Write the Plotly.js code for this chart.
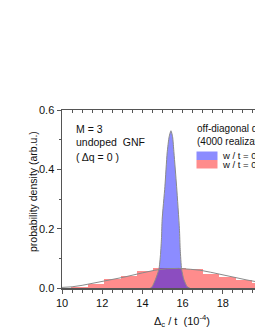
<!DOCTYPE html>
<html>
<head>
<meta charset="utf-8">
<script src="https://cdn.plot.ly/plotly-3.0.1.min.js"></script>
<style>html,body{margin:0;padding:0;background:#fff;}#chart{width:255px;height:330px;}</style>
</head>
<body>
<div id="chart"></div>
<script>
// Red histogram (w/t larger): bin centres and heights
const redBinCenters = [10.86, 11.68, 12.50, 13.32, 14.14, 14.96, 15.78, 16.60, 17.42, 18.24, 19.06, 19.88];
const redBinHeights = [0.005, 0.014, 0.032, 0.040, 0.057, 0.066, 0.066, 0.063, 0.046, 0.037, 0.026, 0.018];
const redBinWidth = 0.82;

// Red fit curve
const redFitX = [10.0, 10.5, 11.0, 11.5, 12.13, 13.04, 14.0, 14.62, 15.2, 15.8, 16.4, 16.86, 17.4, 17.86, 18.3, 18.7, 19.2, 19.6, 20.0];
const redFitY = [0.002, 0.004, 0.009, 0.015, 0.023, 0.036, 0.051, 0.060, 0.065, 0.066, 0.063, 0.060, 0.053, 0.046, 0.039, 0.033, 0.027, 0.022, 0.018];

// Blue distribution (w/t small) and its fit
const blueX = [14.40, 14.48, 14.65, 14.82, 14.90, 14.95, 14.98, 15.12, 15.23, 15.33, 15.42, 15.50, 15.57, 15.70, 15.84, 15.88, 15.95, 16.06, 16.23, 16.35];
const blueY = [0.000, 0.004, 0.029, 0.063, 0.113, 0.170, 0.230, 0.343, 0.455, 0.510, 0.530, 0.510, 0.455, 0.343, 0.200, 0.130, 0.063, 0.029, 0.004, 0.000];

// Tick settings
const xTickVals = [10, 12, 14, 16, 18];
const yTickVals = [0.0, 0.2, 0.4, 0.6];

const legendLabels = ['w / t = 0.01', 'w / t = 0.1'];
const infoLines = ['M = 3', 'undoped  GNF', '( \u0394q = 0 )'];
const headerLines = ['off-diagonal disorder', '(4000 realizations)'];

const FONT = 'Liberation Sans, Arial, sans-serif';
const xr = [10, 19.6];
const axisColor = '#555';

const traces = [
  {
    type: 'bar', x: redBinCenters, y: redBinHeights, width: redBinWidth,
    marker: {color: 'rgba(255,0,0,0.45)', line: {width: 0}},
    hoverinfo: 'skip', showlegend: false
  },
  {
    type: 'scatter', mode: 'lines', x: redFitX, y: redFitY,
    line: {color: '#8a8a8a', width: 1}, hoverinfo: 'skip', showlegend: false,
    xaxis: 'x2'
  },
  {
    type: 'scatter', mode: 'lines', x: blueX, y: blueY, fill: 'tozeroy',
    fillcolor: 'rgba(0,0,255,0.45)', line: {color: '#8a8a8a', width: 1, shape: 'spline', smoothing: 0.6},
    hoverinfo: 'skip', showlegend: false
  }
];

const pxW = 255 - 62; // plot width in px
const pxH = 178;      // plot height
function px2paperX(p){ return (p - 62) / pxW; }
function px2paperY(p){ return (288 - p) / pxH; }

const annotations = [];
infoLines.forEach((t, i) => {
  annotations.push({xref:'paper', yref:'paper', x: px2paperX(74), y: px2paperY([129, 142, 157][i]),
    xanchor:'left', yanchor:'middle', text: t, showarrow:false, font:{family:FONT, size:10.5, color:'#111'}});
});
headerLines.forEach((t, i) => {
  annotations.push({xref:'paper', yref:'paper', x: px2paperX(195), y: px2paperY([128.5, 141][i]),
    xanchor:'left', yanchor:'middle', text: t, showarrow:false, font:{family:FONT, size:10, color:'#111'}});
});
legendLabels.forEach((t, i) => {
  annotations.push({xref:'paper', yref:'paper', x: px2paperX(220), y: px2paperY([155.5, 164.5][i]),
    xanchor:'left', yanchor:'middle', text: t, showarrow:false, font:{family:FONT, size:9.5, color:'#111'}});
});
// axis titles
annotations.push({xref:'paper', yref:'paper', x: px2paperX(182), y: px2paperY(321), xanchor:'center', yanchor:'middle',
  text: '\u0394<sub>c</sub> / t  (10<sup>-4</sup>)', showarrow:false, font:{family:FONT, size:11, color:'#111'}});
annotations.push({xref:'paper', yref:'paper', x: px2paperX(33), y: px2paperY(192), xanchor:'center', yanchor:'middle',
  textangle:-90, text: 'probability density (arb.u.)', showarrow:false, font:{family:FONT, size:10.5, color:'#111'}});

const shapes = [
  {type:'rect', xref:'paper', yref:'paper', x0: px2paperX(196.5), x1: px2paperX(217.5), y0: px2paperY(151.5), y1: px2paperY(160),
   fillcolor:'rgba(0,0,255,0.45)', line:{width:0}},
  {type:'rect', xref:'paper', yref:'paper', x0: px2paperX(196.5), x1: px2paperX(217.5), y0: px2paperY(160), y1: px2paperY(168.5),
   fillcolor:'rgba(255,0,0,0.45)', line:{width:0}}
];

const layout = {
  width: 255, height: 330,
  margin: {l: 62, r: 0, t: 110, b: 42, pad: 0},
  paper_bgcolor: '#fff', plot_bgcolor: '#fff',
  barmode: 'overlay', bargap: 0,
  showlegend: false,
  font: {family: FONT, size: 10, color: '#111'},
  xaxis: {
    range: xr, tickvals: xTickVals, ticktext: xTickVals.map(String),
    ticks: 'outside', ticklen: 4, tickwidth: 1, tickcolor: axisColor,
    minor: {dtick: 0.5, tick0: 10, ticks: 'outside', ticklen: 3, tickcolor: axisColor},
    showline: true, linecolor: axisColor, linewidth: 1.5, showgrid: false, zeroline: false,
    tickfont: {family: FONT, size: 11, color: '#111'}
  },
  xaxis2: {
    range: xr, overlaying: 'x', side: 'top', showticklabels: false,
    tickvals: xTickVals, ticks: 'inside', ticklen: 3, tickcolor: axisColor,
    minor: {dtick: 0.5, tick0: 10, ticks: 'inside', ticklen: 3, tickcolor: axisColor},
    showline: true, linecolor: axisColor, linewidth: 1.5, showgrid: false, zeroline: false
  },
  yaxis: {
    range: [0, 0.6], tickvals: yTickVals, ticktext: yTickVals.map(v => v.toFixed(1)),
    ticks: 'outside', ticklen: 4, tickwidth: 1, tickcolor: axisColor,
    minor: {dtick: 0.1, ticks: 'outside', ticklen: 2, tickcolor: axisColor},
    showline: true, linecolor: axisColor, linewidth: 1.5, showgrid: false, zeroline: false,
    tickfont: {family: FONT, size: 11, color: '#111'}
  },
  annotations: annotations,
  shapes: shapes
};

Plotly.newPlot('chart', traces, layout, {staticPlot: true, displayModeBar: false});
</script>
</body>
</html>
